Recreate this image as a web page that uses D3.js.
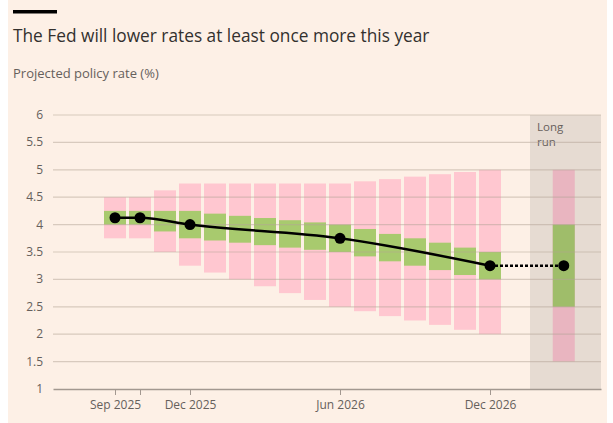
<!DOCTYPE html>
<html>
<head>
<meta charset="utf-8">
<script src="https://cdn.jsdelivr.net/npm/d3@7"></script>
<style>
  body { margin: 0; background: #ffffff; }
  svg text { font-family: "Open Sans", "Noto Sans", sans-serif; }
</style>
</head>
<body>
<div id="chart"></div>
<script>
// Monthly projections, Sep 2025 .. Dec 2026
const months = ["Sep 2025", "Oct 2025", "Nov 2025", "Dec 2025", "Jan 2026", "Feb 2026",
  "Mar 2026", "Apr 2026", "May 2026", "Jun 2026", "Jul 2026", "Aug 2026",
  "Sep 2026", "Oct 2026", "Nov 2026", "Dec 2026"];
const rangeHigh = [4.5, 4.5, 4.625, 4.75, 4.75, 4.75, 4.75, 4.75, 4.75, 4.75, 4.79, 4.83, 4.875, 4.92, 4.96, 5.0];
const rangeLow = [3.75, 3.75, 3.5, 3.25, 3.125, 3.0, 2.875, 2.75, 2.625, 2.5, 2.42, 2.33, 2.25, 2.17, 2.08, 2.0];
const coreHigh = [4.25, 4.25, 4.25, 4.25, 4.2, 4.16, 4.12, 4.08, 4.04, 4.0, 3.92, 3.83, 3.75, 3.67, 3.58, 3.5];
const coreLow = [4.0, 4.0, 3.875, 3.75, 3.71, 3.67, 3.625, 3.58, 3.54, 3.5, 3.42, 3.33, 3.25, 3.17, 3.08, 3.0];

// Median path at meetings
const medianMonths = ["Sep 2025", "Oct 2025", "Dec 2025", "Jun 2026", "Dec 2026"];
const medianValues = [4.125, 4.125, 4.0, 3.75, 3.25];

// Long run
const longRunRange = [1.5, 5.0];
const longRunCore = [2.5, 4.0];
const longRunMedian = 3.25;

const yTicks = [1, 1.5, 2, 2.5, 3, 3.5, 4, 4.5, 5, 5.5, 6];
const xTickMonths = ["Sep 2025", "Oct 2025", "Dec 2025", "Jun 2026", "Dec 2026"];
const xTickLabels = ["Sep 2025", "", "Dec 2025", "Jun 2026", "Dec 2026"];

const width = 613;
const height = 423;
const margin = { top: 115, bottom: 34, left: 53, right: 12 };

const svg = d3.select("#chart")
  .append("svg")
  .attr("width", width)
  .attr("height", height);

svg.append("rect")
  .attr("x", 8).attr("y", 0)
  .attr("width", 599).attr("height", height)
  .attr("fill", "#fdf0e6");

// title block
svg.append("rect")
  .attr("x", 13).attr("y", 10)
  .attr("width", 44).attr("height", 3.5)
  .attr("fill", "#000");

svg.append("text")
  .attr("x", 13).attr("y", 42)
  .attr("font-size", "17.3px")
  .attr("fill", "#33302e")
  .text("The Fed will lower rates at least once more this year");

svg.append("text")
  .attr("x", 13).attr("y", 78)
  .attr("font-size", "13px")
  .attr("fill", "#66605c")
  .text("Projected policy rate (%)");

// scales
const monthIndex = (m) => months.indexOf(m);
const longRunPos = 17.95;

const xScale = d3.scaleLinear()
  .domain([-2.48, 19.44])
  .range([margin.left, width - margin.right]);

const yScale = d3.scaleLinear()
  .domain([1, 6])
  .range([height - margin.bottom, margin.top]);

const barW = 22;

// long run panel
svg.append("rect")
  .attr("x", xScale(16.6))
  .attr("y", yScale(6))
  .attr("width", xScale(19.44) - xScale(16.6))
  .attr("height", yScale(1) - yScale(6))
  .attr("fill", "#e6dbd2");

svg.append("text")
  .attr("x", xScale(16.6) + 7)
  .attr("y", 131)
  .attr("font-size", "11.5px")
  .attr("fill", "#66605c")
  .text("Long");
svg.append("text")
  .attr("x", xScale(16.6) + 7)
  .attr("y", 146)
  .attr("font-size", "11.5px")
  .attr("fill", "#66605c")
  .text("run");

// Bars
const bars = months.map((m, i) => ({
  i, hi: rangeHigh[i], lo: rangeLow[i], cHi: coreHigh[i], cLo: coreLow[i]
}));

svg.append("g")
  .selectAll("rect")
  .data(bars)
  .enter()
  .append("rect")
  .attr("x", (d) => xScale(d.i) - barW / 2)
  .attr("y", (d) => yScale(d.hi))
  .attr("width", barW)
  .attr("height", (d) => yScale(d.lo) - yScale(d.hi))
  .attr("fill", "#ffc7d0");

svg.append("g")
  .selectAll("rect")
  .data(bars)
  .enter()
  .append("rect")
  .attr("x", (d) => xScale(d.i) - barW / 2)
  .attr("y", (d) => yScale(d.cHi))
  .attr("width", barW)
  .attr("height", (d) => yScale(d.cLo) - yScale(d.cHi))
  .attr("fill", "#a8ca6e");

// long run bar
svg.append("rect")
  .attr("x", xScale(longRunPos) - barW / 2)
  .attr("y", yScale(longRunRange[1]))
  .attr("width", barW)
  .attr("height", yScale(longRunRange[0]) - yScale(longRunRange[1]))
  .attr("fill", "#e9b5c0");

svg.append("rect")
  .attr("x", xScale(longRunPos) - barW / 2)
  .attr("y", yScale(longRunCore[1]))
  .attr("width", barW)
  .attr("height", yScale(longRunCore[0]) - yScale(longRunCore[1]))
  .attr("fill", "#9fbd6a");

// Grid

svg.append("g")
  .selectAll("line")
  .data(yTicks.slice(1))
  .enter()
  .append("line")
  .attr("x1", margin.left)
  .attr("x2", width - margin.right)
  .attr("y1", (d) => yScale(d))
  .attr("y2", (d) => yScale(d))
  .attr("stroke", "#b3a396")
  .attr("stroke-opacity", 0.5)
  .attr("stroke-width", 1.2);

svg.append("g")
  .selectAll("text")
  .data(yTicks)
  .enter()
  .append("text")
  .attr("x", 43)
  .attr("y", (d) => yScale(d) + 4)
  .attr("text-anchor", "end")
  .attr("font-size", "12px")
  .attr("fill", "#66605c")
  .text((d) => d);

// Axis

const xAxis = d3.axisBottom(xScale)
  .tickValues(xTickMonths.map(monthIndex))
  .tickFormat((d, i) => xTickLabels[i])
  .tickSizeInner(6)
  .tickSizeOuter(0)
  .tickPadding(5);

const axisG = svg.append("g")
  .attr("transform", `translate(0, ${yScale(1)})`)
  .call(xAxis);

axisG.select(".domain")
  .attr("stroke", "#a29890")
  .attr("stroke-width", 1.5);
axisG.selectAll(".tick line").attr("stroke", "#a29890");
axisG.selectAll(".tick text")
  .attr("font-family", "Open Sans, Noto Sans, sans-serif")
  .attr("font-size", "12px")
  .attr("fill", "#66605c");

// Median line

const medianData = medianMonths.map((m, i) => ({ x: monthIndex(m), y: medianValues[i] }));

svg.append("path")
  .datum(medianData)
  .attr("fill", "none")
  .attr("stroke", "#000")
  .attr("stroke-width", 2.5)
  .attr("d", d3.line()
    .x((d) => xScale(d.x))
    .y((d) => yScale(d.y))
    .curve(d3.curveMonotoneX));

const last = medianData[medianData.length - 1];
svg.append("line")
  .attr("x1", xScale(last.x))
  .attr("x2", xScale(longRunPos))
  .attr("y1", yScale(last.y))
  .attr("y2", yScale(longRunMedian))
  .attr("stroke", "#000")
  .attr("stroke-width", 2.5)
  .attr("stroke-dasharray", "3,2");

svg.append("g")
  .selectAll("circle")
  .data(medianData.concat([{ x: longRunPos, y: longRunMedian }]))
  .enter()
  .append("circle")
  .attr("cx", (d) => xScale(d.x))
  .attr("cy", (d) => yScale(d.y))
  .attr("r", 5.5)
  .attr("fill", "#000");
</script>
</body>
</html>
